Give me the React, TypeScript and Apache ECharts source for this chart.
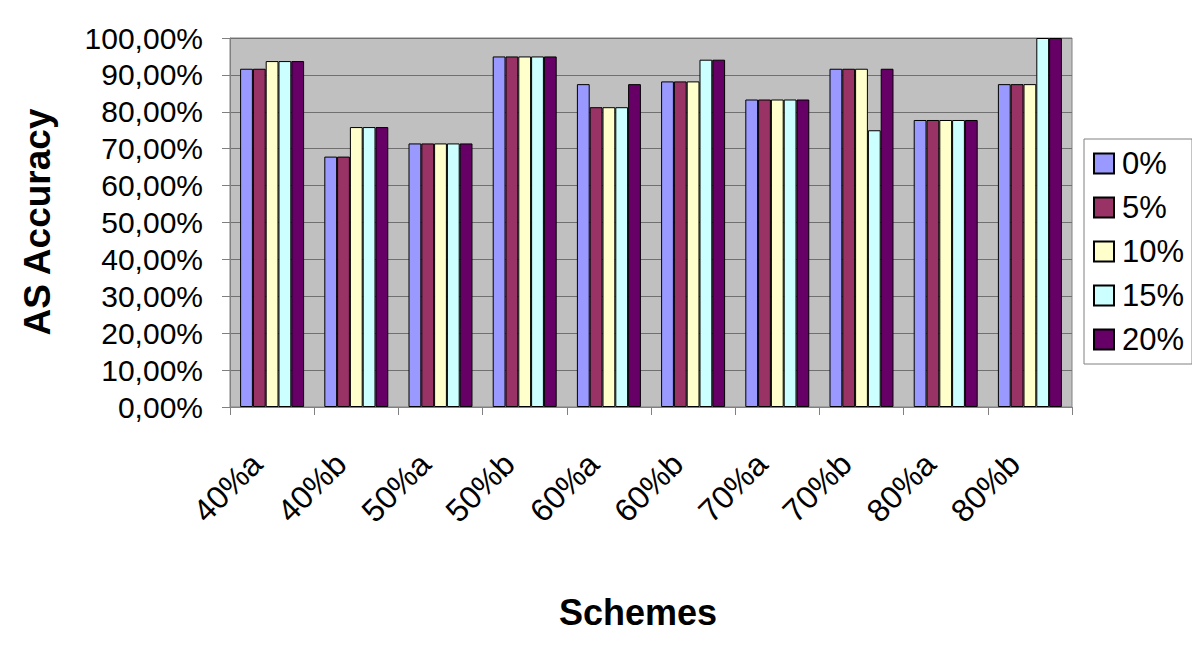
import React, { useEffect, useRef } from "react";
import * as echarts from "echarts";

const categories = ["40%a", "40%b", "50%a", "50%b", "60%a", "60%b", "70%a", "70%b", "80%a", "80%b"];
const seriesNames = ["0%", "5%", "10%", "15%", "20%"];
const s0 = [91.67, 67.86, 71.43, 95.0, 87.5, 88.24, 83.33, 91.67, 77.78, 87.5];
const s5 = [91.67, 67.86, 71.43, 95.0, 81.25, 88.24, 83.33, 91.67, 77.78, 87.5];
const s10 = [93.75, 75.86, 71.43, 95.0, 81.25, 88.24, 83.33, 91.67, 77.78, 87.5];
const s15 = [93.75, 75.86, 71.43, 95.0, 81.25, 94.12, 83.33, 75.0, 77.78, 100.0];
const s20 = [93.75, 75.86, 71.43, 95.0, 87.5, 94.12, 83.33, 91.67, 77.78, 100.0];
const seriesValues = [s0, s5, s10, s15, s20];
const colors = ["#9999FF", "#993366", "#FFFFCC", "#CCFFFF", "#660066"];
const yTitle = "AS Accuracy";
const xTitle = "Schemes";

const FONT = "Liberation Sans, Arial, sans-serif";

export default function App() {
  const ref = useRef<HTMLDivElement>(null);
  useEffect(() => {
    if (!ref.current) return;
    const chart = echarts.init(ref.current, null, { renderer: "svg" });
    chart.setOption({
      animation: false,
      textStyle: { fontFamily: FONT },
      grid: {
        left: 230,
        right: 128,
        top: 38,
        bottom: 239,
        show: true,
        backgroundColor: "#C0C0C0",
        borderColor: "#808080",
        borderWidth: 1,
      },
      legend: {
        orient: "vertical",
        left: 1084,
        top: 139,
        width: 113,
        padding: [9, 8, 9, 9],
        borderColor: "#808080",
        borderWidth: 1,
        backgroundColor: "#FFFFFF",
        itemWidth: 20,
        itemHeight: 20,
        itemGap: 13,
        icon: "rect",
        data: seriesNames,
        textStyle: { fontSize: 31, color: "#000", fontFamily: FONT, padding: [0, 0, 0, 3] },
      },
      xAxis: {
        type: "category",
        data: categories,
        boundaryGap: true,
        axisLine: { show: true, lineStyle: { color: "#808080", width: 1 } },
        axisTick: { show: true, length: 8, alignWithLabel: false, lineStyle: { color: "#808080" } },
        axisLabel: {
          rotate: 45,
          fontSize: 32,
          color: "#000",
          margin: 36,
          padding: [0, 22, 0, 0],
          fontFamily: FONT,
          interval: 0,
        },
      },
      yAxis: {
        type: "value",
        min: 0,
        max: 100,
        interval: 10,
        axisLine: { show: true, lineStyle: { color: "#808080", width: 1 } },
        axisTick: { show: true, length: 8, lineStyle: { color: "#808080" } },
        splitLine: { show: true, lineStyle: { color: "#707070", width: 1 } },
        axisLabel: {
          fontSize: 30,
          color: "#000",
          margin: 27,
          fontFamily: FONT,
          formatter: (v: number) => v.toFixed(2).replace(".", ",") + "%",
        },
      },
      graphic: [
        {
          type: "text",
          x: 37,
          y: 222,
          rotation: Math.PI / 2,
          style: {
            text: yTitle,
            font: "bold 37px " + FONT,
            fill: "#000",
            align: "center",
            verticalAlign: "middle",
          },
        },
        {
          type: "text",
          x: 638,
          y: 612,
          style: {
            text: xTitle,
            font: "bold 36px " + FONT,
            fill: "#000",
            align: "center",
            verticalAlign: "middle",
          },
        },
      ],
      series: seriesValues.map((vals, i) => ({
        name: seriesNames[i],
        type: "bar",
        data: vals,
        barGap: "0%",
        barCategoryGap: "24%",
        itemStyle: { color: colors[i], borderColor: "#000", borderWidth: 1 },
      })),
    });
    return () => chart.dispose();
  }, []);
  return <div ref={ref} style={{ width: 1200, height: 646, margin: -8 }} />;
}
